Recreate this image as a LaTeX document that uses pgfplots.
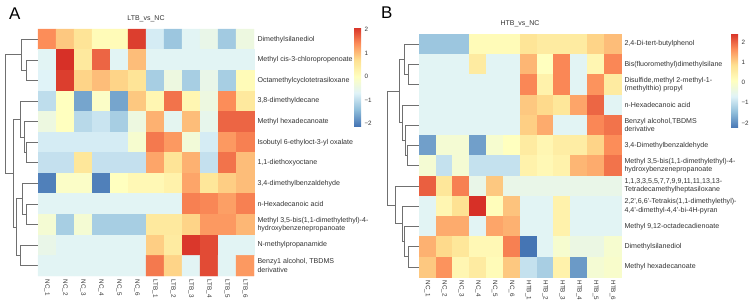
\documentclass[border=0pt]{standalone}
\usepackage{fontspec}
\setmainfont{Liberation Sans}
\usepackage{pgfplots}
\pgfplotsset{compat=1.18}

\definecolor{txt}{HTML}{333333}
\definecolor{treegray}{HTML}{707070}

\pgfplotsset{
  colormap={rdylbu}{rgb255=(69,117,180) rgb255=(145,191,219) rgb255=(224,243,248)
    rgb255=(255,255,191) rgb255=(254,224,144) rgb255=(252,141,89) rgb255=(215,48,39)},
  heat/.style={
    scale only axis, anchor=north west,
    xmin=-0.5, xmax=11.5, ymin=-0.5, ymax=11.5, y dir=reverse,
    enlargelimits=false, clip=false,
    axis line style={draw=none}, major tick length=0, tick style={draw=none},
    xtick={0,...,11}, ytick={0,...,11}, yticklabel pos=right,
    xticklabel style={rotate=-90, anchor=west, font=\fontsize{6.3}{7}\selectfont, text=txt},
    yticklabel style={align=left, anchor=west, font=\fontsize{7.1}{8.6}\selectfont, text=txt},
    colormap name=rdylbu, point meta=explicit,
    title style={at={(0.5,1)}, anchor=base, yshift=3bp, inner sep=0pt,
      font=\fontsize{7}{8}\selectfont, text=txt},
  },
  bar/.style={
    scale only axis, width=7bp,
    ytick={-2,-1,0,1,2}, yticklabels={−2,−1,0,1,2},
    yticklabel style={font=\fontsize{6.3}{7}\selectfont, text=txt},
    axis line style={draw=none}, major tick length=0, tick style={draw=none},
  },
  tree/.style={scale only axis, hide axis, anchor=north west,
    ymin=-0.5, ymax=11.5, y dir=reverse, clip=false},
  branch/.style={draw=treegray, line width=0.7bp, mark=none},
}

\begin{document}
\begin{tikzpicture}
\path[use as bounding box] (0,0) rectangle (749bp,-303bp);

% ---------------- Panel A ----------------
\node[anchor=base west, inner sep=0pt, font=\fontsize{17}{17}\selectfont] at (9bp,-19bp) {A};

\begin{axis}[tree, at={(0bp,-29bp)}, width=38bp, height=247bp, xmin=0, xmax=38]
\addplot[branch] coordinates {(38,1) (26.7,1) (26.7,2) (38,2)};
\addplot[branch] coordinates {(38,0) (21.7,0) (21.7,1.5) (26.7,1.5)};
\addplot[branch] coordinates {(38,5) (26.7,5) (26.7,6) (38,6)};
\addplot[branch] coordinates {(38,4) (24,4) (24,5.5) (26.7,5.5)};
\addplot[branch] coordinates {(38,3) (20.7,3) (20.7,4.75) (24,4.75)};
\addplot[branch] coordinates {(38,8) (26,8) (26,9) (38,9)};
\addplot[branch] coordinates {(38,7) (22.7,7) (22.7,8.5) (26,8.5)};
\addplot[branch] coordinates {(38,10) (20.7,10) (20.7,11) (38,11)};
\addplot[branch] coordinates {(22.7,7.75) (16,7.75) (16,10.5) (20.7,10.5)};
\addplot[branch] coordinates {(20.7,3.875) (13.3,3.875) (13.3,9.125) (16,9.125)};
\addplot[branch] coordinates {(21.7,0.75) (5,0.75) (5,6.5) (13.3,6.5)};
\end{axis}

\begin{axis}[heat, at={(38bp,-29bp)}, width=216bp, height=247bp,
  title={LTB\_vs\_NC},
  point meta min=-2.1, point meta max=2.1,
  xticklabels={NC\_1,NC\_2,NC\_3,NC\_4,NC\_5,NC\_6,LTB\_1,LTB\_2,LTB\_3,LTB\_4,LTB\_5,LTB\_6},
  yticklabels={{Dimethylsilanediol},{Methyl cis-3-chloropropenoate},{Octamethylcyclotetrasiloxane},
    {3,8-dimethyldecane},{Methyl hexadecanoate},{Isobutyl 6-ethyloct-3-yl oxalate},
    {1,1-diethoxyoctane},{3,4-dimethylbenzaldehyde},{n-Hexadecanoic acid},
    {Methyl 3,5-bis(1,1-dimethylethyl)-4-\\hydroxybenzenepropanoate},{N-methylpropanamide},
    {Benzy1 alcohol, TBDMS\\derivative}},
  colorbar,
  colorbar style={bar, at={(parent axis.north east)}, anchor=north west,
    xshift=91.5bp, yshift=2bp, height=99bp},
]
\addplot[matrix plot*, mesh/cols=12, point meta=explicit] coordinates {
(0,0)[1.4] (1,0)[0.9] (2,0)[0.6] (3,0)[0.1] (4,0)[0.1] (5,0)[2.0] (6,0)[-0.8] (7,0)[-1.3] (8,0)[-0.65] (9,0)[-0.5] (10,0)[-1.25] (11,0)[-0.4]
(0,1)[-0.65] (1,1)[2.1] (2,1)[0.5] (3,1)[1.7] (4,1)[-0.65] (5,1)[1.0] (6,1)[-0.65] (7,1)[-0.65] (8,1)[-0.65] (9,1)[-0.65] (10,1)[-0.65] (11,1)[-0.65]
(0,2)[-0.7] (1,2)[2.0] (2,2)[0.8] (3,2)[1.0] (4,2)[0.8] (5,2)[0.6] (6,2)[-1.2] (7,2)[-0.4] (8,2)[-1.2] (9,2)[-0.5] (10,2)[-1.2] (11,2)[0.1]
(0,3)[-1.0] (1,3)[0.0] (2,3)[-1.65] (3,3)[-0.1] (4,3)[-1.65] (5,3)[0.9] (6,3)[0.2] (7,3)[1.6] (8,3)[0.2] (9,3)[-0.4] (10,3)[1.4] (11,3)[0.5]
(0,4)[-0.4] (1,4)[0.0] (2,4)[-1.05] (3,4)[-0.9] (4,4)[-1.2] (5,4)[-0.4] (6,4)[1.1] (7,4)[-0.6] (8,4)[1.0] (9,4)[-0.55] (10,4)[1.7] (11,4)[1.7]
(0,5)[-0.8] (1,5)[-0.8] (2,5)[-0.8] (3,5)[-0.8] (4,5)[-0.8] (5,5)[-0.2] (6,5)[1.55] (7,5)[1.3] (8,5)[-0.3] (9,5)[-0.8] (10,5)[1.3] (11,5)[1.5]
(0,6)[-0.95] (1,6)[-0.95] (2,6)[0.55] (3,6)[-0.95] (4,6)[-0.95] (5,6)[-0.95] (6,6)[1.2] (7,6)[0.6] (8,6)[1.1] (9,6)[-0.95] (10,6)[1.6] (11,6)[1.0]
(0,7)[-2.0] (1,7)[-0.1] (2,7)[-0.1] (3,7)[-2.0] (4,7)[0.0] (5,7)[0.15] (6,7)[0.15] (7,7)[0.3] (8,7)[1.2] (9,7)[0.55] (10,7)[0.85] (11,7)[1.0]
(0,8)[-0.65] (1,8)[-0.65] (2,8)[-0.65] (3,8)[-0.65] (4,8)[-0.65] (5,8)[-0.65] (6,8)[-0.65] (7,8)[-0.65] (8,8)[1.5] (9,8)[1.45] (10,8)[1.25] (11,8)[1.5]
(0,9)[-0.25] (1,9)[-1.2] (2,9)[-0.25] (3,9)[-1.2] (4,9)[-1.2] (5,9)[-1.2] (6,9)[0.5] (7,9)[0.5] (8,9)[0.8] (9,9)[1.3] (10,9)[1.3] (11,9)[1.05]
(0,10)[-0.5] (1,10)[-0.65] (2,10)[-0.65] (3,10)[-0.65] (4,10)[-0.65] (5,10)[-0.65] (6,10)[0.85] (7,10)[0.45] (8,10)[2.05] (9,10)[1.9] (10,10)[-0.65] (11,10)[-0.65]
(0,11)[-0.65] (1,11)[-0.65] (2,11)[-0.65] (3,11)[-0.65] (4,11)[-0.65] (5,11)[-0.65] (6,11)[1.55] (7,11)[0.8] (8,11)[-0.65] (9,11)[1.9] (10,11)[-0.65] (11,11)[1.3]
};
\end{axis}

% ---------------- Panel B ----------------
\node[anchor=base west, inner sep=0pt, font=\fontsize{17}{17}\selectfont] at (381bp,-18bp) {B};

\begin{axis}[tree, at={(372bp,-34bp)}, width=47bp, height=243bp, xmin=372, xmax=419]
\addplot[branch] coordinates {(419,1) (408,1) (408,2) (419,2)};
\addplot[branch] coordinates {(419,0) (404,0) (404,1.5) (408,1.5)};
\addplot[branch] coordinates {(419,5) (407,5) (407,6) (419,6)};
\addplot[branch] coordinates {(419,4) (405,4) (405,5.5) (407,5.5)};
\addplot[branch] coordinates {(419,3) (402,3) (402,4.75) (405,4.75)};
\addplot[branch] coordinates {(404,0.75) (399,0.75) (399,3.875) (402,3.875)};
\addplot[branch] coordinates {(419,10) (408,10) (408,11) (419,11)};
\addplot[branch] coordinates {(419,9) (404,9) (404,10.5) (408,10.5)};
\addplot[branch] coordinates {(419,8) (402,8) (402,9.75) (404,9.75)};
\addplot[branch] coordinates {(419,7) (395,7) (395,8.875) (402,8.875)};
\addplot[branch] coordinates {(399,2.3125) (387,2.3125) (387,7.9375) (395,7.9375)};
\end{axis}

\begin{axis}[heat, at={(419bp,-34bp)}, width=202bp, height=243bp,
  title={HTB\_vs\_NC},
  point meta min=-2.25, point meta max=2.45,
  xticklabels={NC\_1,NC\_2,NC\_3,NC\_4,NC\_5,NC\_6,HTB\_1,HTB\_2,HTB\_3,HTB\_4,HTB\_5,HTB\_6},
  yticklabels={{2,4-Di-tert-butylphenol},{Bis(fluoromethyl)dimethylsilane},
    {Disulfide,methyl 2-methyl-1-\\(methylthio) propyl},{n-Hexadecanoic acid},
    {Benzyl alcohol,TBDMS\\derivative},{3,4-Dimethylbenzaldehyde},
    {Methyl 3,5-bis(1,1-dimethylethyl)-4-\\hydroxybenzenepropanoate},
    {1,1,3,3,5,5,7,7,9,9,11,11,13,13-\\Tetradecamethylheptasiloxane},
    {2,2',6,6'-Tetrakis(1,1-dimethylethyl)-\\4,4'-dimethyl-4,4'-bi-4H-pyran},
    {Methyl 9,12-octadecadienoate},{Dimethylsilanediol},{Methyl hexadecanoate}},
  colorbar,
  colorbar style={bar, at={(parent axis.north east)}, anchor=north west,
    xshift=101.5bp, yshift=1bp, height=95bp},
]
\addplot[matrix plot*, mesh/cols=12, point meta=explicit] coordinates {
(0,0)[-1.36] (1,0)[-1.36] (2,0)[-1.36] (3,0)[0.21] (4,0)[0.21] (5,0)[0.21] (6,0)[0.77] (7,0)[0.6] (8,0)[0.6] (9,0)[0.6] (10,0)[1.0] (11,0)[1.22]
(0,1)[-0.63] (1,1)[-0.63] (2,1)[-0.63] (3,1)[0.6] (4,1)[-0.63] (5,1)[-0.63] (6,1)[1.28] (7,1)[0.1] (8,1)[1.72] (9,1)[-0.63] (10,1)[0.32] (11,1)[1.72]
(0,2)[-0.63] (1,2)[-0.63] (2,2)[-0.63] (3,2)[-0.63] (4,2)[-0.63] (5,2)[-0.63] (6,2)[1.72] (7,2)[0.44] (8,2)[1.72] (9,2)[-0.63] (10,2)[1.61] (11,2)[0.6]
(0,3)[-0.63] (1,3)[-0.63] (2,3)[-0.63] (3,3)[-0.63] (4,3)[-0.63] (5,3)[-0.63] (6,3)[1.11] (7,3)[0.94] (8,3)[0.72] (9,3)[1.44] (10,3)[2.0] (11,3)[-0.63]
(0,4)[-0.63] (1,4)[-0.63] (2,4)[-0.63] (3,4)[-0.63] (4,4)[-0.63] (5,4)[-0.63] (6,4)[1.05] (7,4)[1.39] (8,4)[-0.63] (9,4)[-0.63] (10,4)[1.72] (11,4)[1.89]
(0,5)[-1.8] (1,5)[-0.18] (2,5)[-0.18] (3,5)[-1.8] (4,5)[-0.12] (5,5)[0.1] (6,5)[0.6] (7,5)[0.32] (8,5)[0.55] (9,5)[0.55] (10,5)[1.0] (11,5)[1.67]
(0,6)[-0.18] (1,6)[-0.96] (2,6)[-0.18] (3,6)[-0.96] (4,6)[-0.96] (5,6)[-0.96] (6,6)[0.44] (7,6)[0.27] (8,6)[0.44] (9,6)[1.28] (10,6)[1.39] (11,6)[1.89]
(0,7)[2.06] (1,7)[0.72] (2,7)[1.78] (3,7)[-0.46] (4,7)[1.11] (5,7)[-0.46] (6,7)[-0.46] (7,7)[-0.46] (8,7)[-0.46] (9,7)[-0.46] (10,7)[-0.46] (11,7)[-0.46]
(0,8)[-0.63] (1,8)[0.32] (2,8)[0.83] (3,8)[2.45] (4,8)[0.16] (5,8)[1.16] (6,8)[-0.63] (7,8)[-0.63] (8,8)[0.44] (9,8)[-0.63] (10,8)[-0.63] (11,8)[-0.63]
(0,9)[-0.63] (1,9)[1.39] (2,9)[1.39] (3,9)[-0.63] (4,9)[1.44] (5,9)[1.33] (6,9)[-0.63] (7,9)[-0.63] (8,9)[0.44] (9,9)[-0.63] (10,9)[-0.63] (11,9)[-0.63]
(0,10)[1.33] (1,10)[0.94] (2,10)[0.72] (3,10)[0.27] (4,10)[0.27] (5,10)[1.78] (6,10)[-2.25] (7,10)[-0.63] (8,10)[-0.12] (9,10)[-0.4] (10,10)[-0.4] (11,10)[-0.12]
(0,11)[1.11] (1,11)[1.61] (2,11)[0.32] (3,11)[0.6] (4,11)[0.21] (5,11)[1.11] (6,11)[-0.96] (7,11)[-1.24] (8,11)[0.44] (9,11)[-1.86] (10,11)[-0.18] (11,11)[-0.07]
};
\end{axis}
\end{tikzpicture}
\end{document}
